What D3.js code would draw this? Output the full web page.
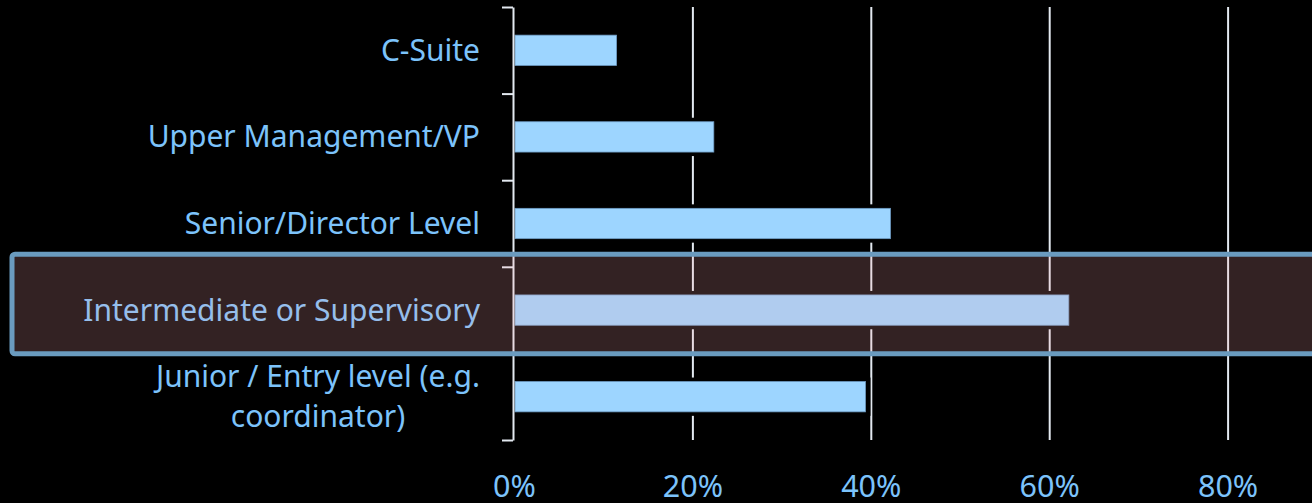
<!DOCTYPE html>
<html>
<head>
<meta charset="utf-8">
<script src="https://cdn.jsdelivr.net/npm/d3@7"></script>
<style>
  html, body { margin: 0; padding: 0; background: #000; }
  svg { display: block; font-family: "Noto Sans", "Open Sans", sans-serif; }
</style>
</head>
<body>
<div id="chart"></div>
<script>
const categories = [
    "C-Suite",
    "Upper Management/VP",
    "Senior/Director Level",
    "Intermediate or Supervisory",
    "Junior / Entry level (e.g. coordinator)"
];
const values = [11.5, 22.4, 42.2, 62.2, 39.4];
const gridValues = [20, 40, 60, 80, 100];
const tickLabels = [0, 20, 40, 60, 80];
const highlighted = "Intermediate or Supervisory";

const colors = {
    bar: "#9dd5ff",
    barEdge: "#6f9cc4",
    axis: "#e3e9f0",
    text: "#7cc3fb",
    frame: "#6a9bbf",
    shade: "rgba(255, 170, 175, 0.2)"
};

const width = 1312;
const height = 503;
const margin = { top: 7, right: -94, bottom: 63, left: 514 };

const svg = d3.select("#chart")
    .append("svg")
    .attr("width", width)
    .attr("height", height);

const x = d3.scaleLinear()
    .domain([0, 100])
    .range([margin.left, width - margin.right]);

const y = d3.scaleBand()
    .domain(categories)
    .range([margin.top, height - margin.bottom])
    .paddingInner(0.65)
    .paddingOuter(0.325);

const rows = categories.map((c, i) => ({ name: c, value: values[i] }));

// vertical gridlines
svg.append("g")
    .attr("class", "grid")
    .attr("transform", `translate(0, ${height - margin.bottom})`)
    .call(d3.axisBottom(x)
        .tickValues(gridValues)
        .tickSize(-(height - margin.top - margin.bottom))
        .tickFormat(""))
    .call(g => g.select(".domain").remove())
    .call(g => g.selectAll("line").attr("stroke", colors.axis).attr("stroke-width", 2));

// bars, each with a black halo that cuts the gridlines
const bars = svg.append("g").attr("class", "bars");

bars.selectAll("rect.halo")
    .data(rows)
    .enter()
    .append("rect")
    .attr("class", "halo")
    .attr("x", x(0))
    .attr("y", d => y(d.name) - 4)
    .attr("width", d => x(d.value) - x(0) + 5)
    .attr("height", y.bandwidth() + 8)
    .attr("fill", "#000");

bars.selectAll("rect.bar")
    .data(rows)
    .enter()
    .append("rect")
    .attr("class", "bar")
    .attr("x", x(0) + 1)
    .attr("y", d => y(d.name))
    .attr("width", d => x(d.value) - x(0) - 1)
    .attr("height", y.bandwidth())
    .attr("fill", colors.bar)
    .attr("stroke", colors.barEdge)
    .attr("stroke-width", 0.8);

// category axis: ticks sit on the band boundaries
const boundary = d3.scaleLinear()
    .domain([0, categories.length])
    .range([margin.top, height - margin.bottom]);

svg.append("g")
    .attr("class", "y-axis")
    .attr("transform", `translate(${x(0) - 1}, 0)`)
    .call(d3.axisLeft(boundary)
        .tickValues(d3.range(categories.length + 1))
        .tickSize(11)
        .tickSizeOuter(0)
        .tickFormat(""))
    .call(g => g.select(".domain").attr("stroke", colors.axis).attr("stroke-width", 2))
    .call(g => g.selectAll("line").attr("stroke", colors.axis).attr("stroke-width", 2));

// category labels, wrapped and centred on their own block
const labelRight = x(0) - 34;
const labels = svg.append("g")
    .attr("class", "labels")
    .style("font-size", "30px")
    .attr("fill", colors.text);

labels.selectAll("text")
    .data(rows)
    .enter()
    .append("text")
    .each(function (d) {
        const text = d3.select(this);
        const words = d.name.split(" ");
        const lines = [];
        let line = [];
        const probe = text.append("tspan");
        words.forEach(w => {
            line.push(w);
            probe.text(line.join(" "));
            if (probe.node().getComputedTextLength() > 420 && line.length > 1) {
                line.pop();
                lines.push(line.join(" "));
                line = [w];
            }
        });
        lines.push(line.join(" "));
        probe.remove();

        const cy = y(d.name) + y.bandwidth() / 2;
        const lineH = 40;
        lines.forEach((l, i) => {
            text.append("tspan")
                .attr("y", cy + (i - (lines.length - 1) / 2) * lineH)
                .attr("dy", "0.35em")
                .text(l);
        });
        let maxW = 0;
        text.selectAll("tspan").each(function () {
            maxW = Math.max(maxW, this.getComputedTextLength());
        });
        text.attr("text-anchor", "middle")
            .selectAll("tspan")
            .attr("x", labelRight - maxW / 2);
    });

// value axis labels
svg.append("g")
    .attr("class", "x-axis")
    .attr("transform", `translate(0, ${height - 17})`)
    .call(d3.axisBottom(x)
        .tickValues(tickLabels)
        .tickSize(0)
        .tickPadding(0)
        .tickFormat(d => `${d}%`))
    .call(g => g.select(".domain").remove())
    .call(g => g.selectAll("text")
        .attr("fill", colors.text)
        .attr("dy", "0.35em")
        .style("font-size", "30.5px")
        .style("font-family", "'Noto Sans', 'Open Sans', sans-serif"));

// highlight frame around the selected row
const step = y.step();
const hc = y(highlighted) + y.bandwidth() / 2 - step * 0.07;
svg.append("rect")
    .attr("class", "highlight")
    .attr("x", 12)
    .attr("y", hc - step * 0.575)
    .attr("width", width + 20)
    .attr("height", step * 1.15)
    .attr("rx", 3)
    .attr("fill", colors.shade)
    .attr("stroke", colors.frame)
    .attr("stroke-width", 5);
</script>
</body>
</html>
